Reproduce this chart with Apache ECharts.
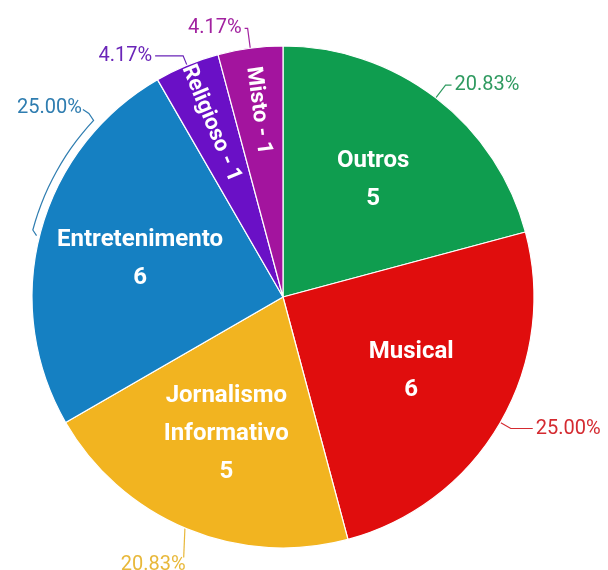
<!DOCTYPE html>
<html>
<head>
<meta charset="utf-8">
<script src="https://cdn.jsdelivr.net/npm/echarts@6/dist/echarts.min.js"></script>
<style>
html,body{margin:0;padding:0;background:#fff;}
#chart{width:608px;height:570px;}
</style>
</head>
<body>
<div id="chart"></div>
<script>
var categories = ['Outros', 'Musical', 'Jornalismo\nInformativo', 'Entretenimento', 'Religioso', 'Misto'];
var values = [5, 6, 5, 6, 1, 1];
var sliceColors = ['#0f9d4f', '#e00d0d', '#f2b420', '#1580c2', '#6a10c6', '#a3149e'];
var labelColors = ['#2f9a60', '#d42a30', '#e8b83a', '#2f7db0', '#6a25b8', '#a222a0'];
var lineLen = [16, 12, 32, 10, 10, 20];
var lineLen2 = [6, 22, 2, 8, 28, 3];
var smallSlices = ['Religioso', 'Misto'];

var center = [283, 297];
var R = 251;

function isSmall(name) { return smallSlices.indexOf(name) >= 0; }

var mainData = categories.map(function (c, i) {
  return {
    name: c, value: values[i],
    itemStyle: { color: sliceColors[i] },
    label: { color: labelColors[i] },
    labelLine: { length: lineLen[i], length2: lineLen2[i], lineStyle: { color: labelColors[i] } }
  };
});
var innerBig = categories.map(function (c, i) {
  return { name: c, value: values[i], label: { show: !isSmall(c) } };
});
var innerSmall = categories.map(function (c, i) {
  return { name: c, value: values[i], label: { show: isSmall(c) } };
});

function polar(angleDeg, r) {
  var t = angleDeg * Math.PI / 180;
  return [center[0] + r * Math.sin(t), center[1] - r * Math.cos(t)];
}

// leader adjustments for the percentage labels
function labelTweaks(p) {
  if (p.seriesIndex !== 0) return {};
  var r = p.labelRect;
  if (p.dataIndex === 3) {
    // bracket-style leader following the arc
    var dx = 62, dy = -121;
    var rx = r.x + r.width + dx, ry = r.y + r.height / 2 + dy;
    var pts = [[rx + 1, ry + 1], [rx + 7, ry + 5]];
    for (var a = 313; a >= 285; a -= 2) pts.push(polar(a, R + 8));
    pts.push(polar(284, R + 3));
    return { dx: dx, dy: dy, labelLinePoints: pts };
  }
  if (p.dataIndex === 2) {
    var dx2 = 16, dy2 = 7;
    var tx = r.x + r.width + dx2 - 2, ty = r.y + dy2 + 2;
    return { dx: dx2, dy: dy2, labelLinePoints: [polar(203, R), [tx, ty]] };
  }
  return {};
}

var chart = echarts.init(document.getElementById('chart'), null, { renderer: 'canvas' });
chart.setOption({
  animation: false,
  backgroundColor: '#fff',
  series: [
    {
      type: 'pie',
      center: center,
      radius: [0, R],
      startAngle: 90,
      clockwise: true,
      avoidLabelOverlap: false,
      itemStyle: { borderColor: '#ffffff', borderWidth: 1.2 },
      label: {
        show: true,
        position: 'outside',
        fontFamily: 'Roboto',
        fontSize: 20,
        overflow: 'none',
        distanceToLabelLine: 3,
        formatter: function (p) { return p.percent.toFixed(2) + '%'; }
      },
      labelLine: { show: true, lineStyle: { width: 1.2 } },
      labelLayout: labelTweaks,
      data: mainData
    },
    {
      type: 'pie',
      center: center,
      radius: [0, 290],
      startAngle: 90,
      silent: true,
      itemStyle: { color: 'rgba(0,0,0,0)' },
      label: {
        position: 'inside',
        color: '#fff',
        fontFamily: 'Roboto',
        fontWeight: 'bold',
        fontSize: 24,
        lineHeight: 38,
        overflow: 'none',
        formatter: '{b}\n{c}'
      },
      labelLine: { show: false },
      data: innerBig
    },
    {
      type: 'pie',
      center: center,
      radius: [0, 370],
      startAngle: 90,
      silent: true,
      itemStyle: { color: 'rgba(0,0,0,0)' },
      label: {
        position: 'inside',
        rotate: 'radial',
        color: '#fff',
        fontFamily: 'Roboto',
        fontWeight: 'bold',
        fontSize: 22,
        overflow: 'none',
        formatter: '{b} - {c}'
      },
      labelLine: { show: false },
      data: innerSmall
    }
  ]
});
</script>
</body>
</html>
